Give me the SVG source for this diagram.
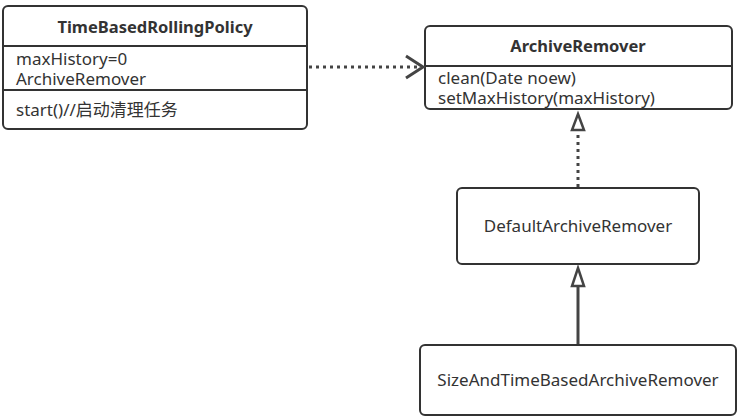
<svg xmlns="http://www.w3.org/2000/svg" width="740" height="420" viewBox="0 0 740 420">
<defs>
<style>
.box{fill:#fff;stroke:#333;stroke-width:2}
.div{stroke:#333;stroke-width:2}
text{font-family:"Noto Sans","Noto Sans CJK SC",sans-serif;font-size:17px;fill:#333}
.t{font-weight:bold;font-size:16.5px;text-anchor:middle}
.c{text-anchor:middle}
.dot{stroke:#444;stroke-width:3;stroke-dasharray:3 4;fill:none}
.solid{stroke:#444;stroke-width:3;fill:none}
.tri{fill:#fff;stroke:#444;stroke-width:2.5;stroke-linejoin:miter}
</style>
</defs>
<rect width="740" height="420" fill="#fff"/>
<g id="TimeBasedRollingPolicy">
<rect class="box" x="3" y="6" width="304" height="123" rx="5"/>
<line class="div" x1="3" y1="46" x2="307" y2="46"/>
<line class="div" x1="3" y1="90" x2="307" y2="90"/>
<text class="t" x="155" y="33">TimeBasedRollingPolicy</text>
<text x="16" y="65">maxHistory=0</text>
<text x="16" y="85">ArchiveRemover</text>
<text x="16" y="116">start()//启动清理任务</text>
</g>
<g id="ArchiveRemover">
<rect class="box" x="425" y="26" width="307" height="83" rx="5"/>
<line class="div" x1="425" y1="66" x2="732" y2="66"/>
<text class="t" x="578" y="52">ArchiveRemover</text>
<text x="438" y="84">clean(Date noew)</text>
<text x="438" y="104">setMaxHistory(maxHistory)</text>
</g>
<g id="DefaultArchiveRemover">
<rect class="box" x="457" y="188" width="242" height="76" rx="5"/>
<text class="c" x="578" y="232">DefaultArchiveRemover</text>
</g>
<g id="SizeAndTimeBasedArchiveRemover">
<rect class="box" x="420" y="345" width="316" height="70" rx="5"/>
<text class="c" x="578" y="386">SizeAndTimeBasedArchiveRemover</text>
</g>
<g id="connectors">
<line class="dot" x1="309" y1="67" x2="420" y2="67"/>
<polyline class="solid" points="406,56 423,67 406,78" stroke-width="2.5"/>
<line class="dot" x1="578" y1="187" x2="578" y2="131"/>
<polygon class="tri" points="578,114 584,130 572,130"/>
<line class="solid" x1="578" y1="344" x2="578" y2="287"/>
<polygon class="tri" points="578,268 584,286 572,286"/>
</g>
</svg>
